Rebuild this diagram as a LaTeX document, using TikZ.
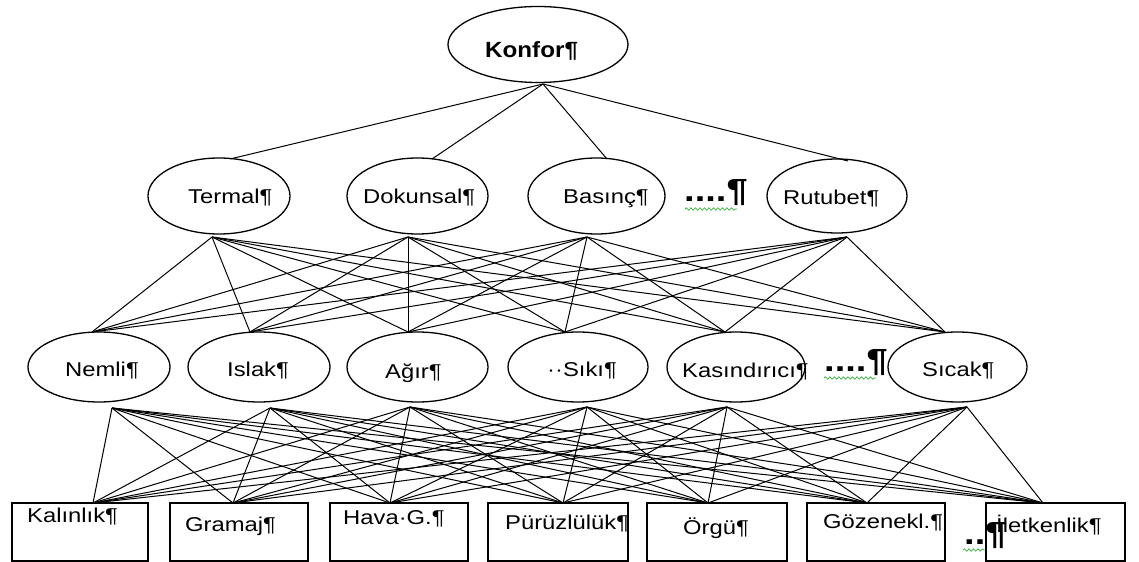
\documentclass[tikz,border=0pt]{standalone}
\usepackage{fontspec}
\setmainfont{Liberation Sans}
\newfontfamily\wide[FakeStretch=1.19]{Liberation Sans}
\newfontfamily\konffont[FakeStretch=1.1]{Liberation Sans}
\usetikzlibrary{shapes.geometric,decorations.pathmorphing}
\definecolor{wavegreen}{RGB}{60,170,60}
\begin{document}
\begin{tikzpicture}[x=1bp,y=-1bp,
  oval/.style={draw,ellipse,line width=1.3bp,inner sep=0pt},
  box/.style={draw,rectangle,line width=1.3bp,inner sep=0pt,minimum height=58bp},
  lbl/.style={inner sep=0pt,anchor=base west,font=\fontsize{20bp}{23bp}\wide},
  bigmark/.style={inner sep=0pt,anchor=base west,font=\fontsize{32bp}{34bp}\wide\bfseries},
  conn/.style={line width=1bp},
  wave/.style={wavegreen,line width=0.7bp,decorate,decoration={snake,segment length=4.5bp,amplitude=1.2bp}}]
\useasboundingbox (0,0) rectangle (1139,562);

% ---- level 1
\node[oval,minimum width=180bp,minimum height=76bp] (konfor) at (538,44.5) {};
\node[inner sep=0pt,anchor=base west,font=\fontsize{22bp}{24bp}\konffont\bfseries] (konfor-l) at (485,58) {Konfor¶};

% ---- level 2
\node[oval,minimum width=142bp,minimum height=76bp] (termal) at (219,196) {};
\node[oval,minimum width=141bp,minimum height=76bp] (dokunsal) at (417.5,196) {};
\node[oval,minimum width=137bp,minimum height=76bp] (basinc) at (596.5,196) {};
\node[oval,minimum width=140bp,minimum height=74bp] (rutubet) at (837,196) {};
\node[lbl] (termal-l) at (188,204) {Termal¶};
\node[lbl] (dokunsal-l) at (363,204) {Dokunsal¶};
\node[lbl] (basinc-l) at (563,204) {Basınç¶};
\node[lbl] (rutubet-l) at (783,205) {Rutubet¶};
\node[bigmark] (dots2) at (684,202) {....¶};

% ---- level 3
\node[oval,minimum width=142bp,minimum height=70bp] (nemli) at (99,367) {};
\node[oval,minimum width=142bp,minimum height=70bp] (islak) at (259,367) {};
\node[oval,minimum width=141bp,minimum height=70bp] (agir) at (417.5,367) {};
\node[oval,minimum width=140bp,minimum height=70bp] (siki) at (578,367) {};
\node[oval,minimum width=138bp,minimum height=70bp] (kasindirici) at (736,367) {};
\node[oval,minimum width=139bp,minimum height=70bp] (sicak) at (957.5,367) {};
\node[lbl] (nemli-l) at (65,377) {Nemli¶};
\node[lbl] (islak-l) at (227,377) {Islak¶};
\node[lbl] (agir-l) at (385,379) {Ağır¶};
\node[lbl] (siki-l) at (547,377) {··Sıkı¶};
\node[lbl] (kasindirici-l) at (682,378) {Kasındırıcı¶};
\node[lbl] (sicak-l) at (922,377) {Sıcak¶};
\node[bigmark] (dots3) at (824,372) {....¶};

% ---- level 4
\node[box,minimum width=136bp] (kalinlik) at (80,532) {};
\node[box,minimum width=138bp] (gramaj) at (239,532) {};
\node[box,minimum width=138bp] (hava) at (399,532) {};
\node[box,minimum width=140bp] (puruzluluk) at (558,532) {};
\node[box,minimum width=140bp] (orgu) at (717,532) {};
\node[box,minimum width=138bp] (gozenek) at (876,532) {};
\node[box,minimum width=139bp] (iletkenlik) at (1055.5,532) {};
\node[lbl] (kalinlik-l) at (27,522) {Kalınlık¶};
\node[lbl] (gramaj-l) at (185,531) {Gramaj¶};
\node[lbl] (hava-l) at (343,524) {Hava·G.¶};
\node[lbl] (puruzluluk-l) at (505,529) {Pürüzlülük¶};
\node[lbl] (orgu-l) at (683,534) {Örgü¶};
\node[lbl] (gozenek-l) at (823,528) {Gözenekl.¶};
\node[bigmark] (dots4) at (964,544) {..¶};
\node[lbl] (iletkenlik-l) at (996,532) {İletkenlik¶};

% ---- connection points
\coordinate (konfor-b) at (543,84);
\coordinate (termal-t) at (230,159);
\coordinate (dokunsal-t) at (432,159);
\coordinate (basinc-t) at (607,159);
\coordinate (rutubet-t) at (848,161);
\coordinate (termal-b) at (212,237);
\coordinate (dokunsal-b) at (408,237);
\coordinate (basinc-b) at (587,237);
\coordinate (rutubet-b) at (847,237);
\coordinate (nemli-t) at (92,332);
\coordinate (islak-t) at (250,332);
\coordinate (agir-t) at (408,332);
\coordinate (siki-t) at (565,332);
\coordinate (kasindirici-t) at (725,332);
\coordinate (sicak-t) at (945,332);
\coordinate (nemli-b) at (112,408);
\coordinate (islak-b) at (270,408);
\coordinate (agir-b) at (410,407);
\coordinate (siki-b) at (587,407);
\coordinate (kasindirici-b) at (727,407);
\coordinate (sicak-b) at (967,407);
\coordinate (kalinlik-t) at (93,503);
\coordinate (gramaj-t) at (233,503);
\coordinate (hava-t) at (390,503);
\coordinate (puruzluluk-t) at (563,503);
\coordinate (orgu-t) at (708,503);
\coordinate (gozenek-t) at (867,503);
\coordinate (iletkenlik-t) at (1043,503);

% ---- connectors
\foreach \a in {termal,dokunsal,basinc,rutubet}
  \draw[conn] (konfor-b) -- (\a-t);
\foreach \a in {termal,dokunsal,basinc,rutubet}
  \foreach \b in {nemli,islak,agir,siki,kasindirici,sicak}
    \draw[conn] (\a-b) -- (\b-t);
\foreach \a in {nemli,islak,agir,siki,kasindirici,sicak}
  \foreach \b in {kalinlik,gramaj,hava,puruzluluk,orgu,gozenek,iletkenlik}
    \draw[conn] (\a-b) -- (\b-t);

% ---- spell-check underlines
\draw[wave] (685,209) -- (737,209);
\draw[wave] (824,378) -- (876,378);
\draw[wave] (963,550) -- (985,550);
\end{tikzpicture}
\end{document}
